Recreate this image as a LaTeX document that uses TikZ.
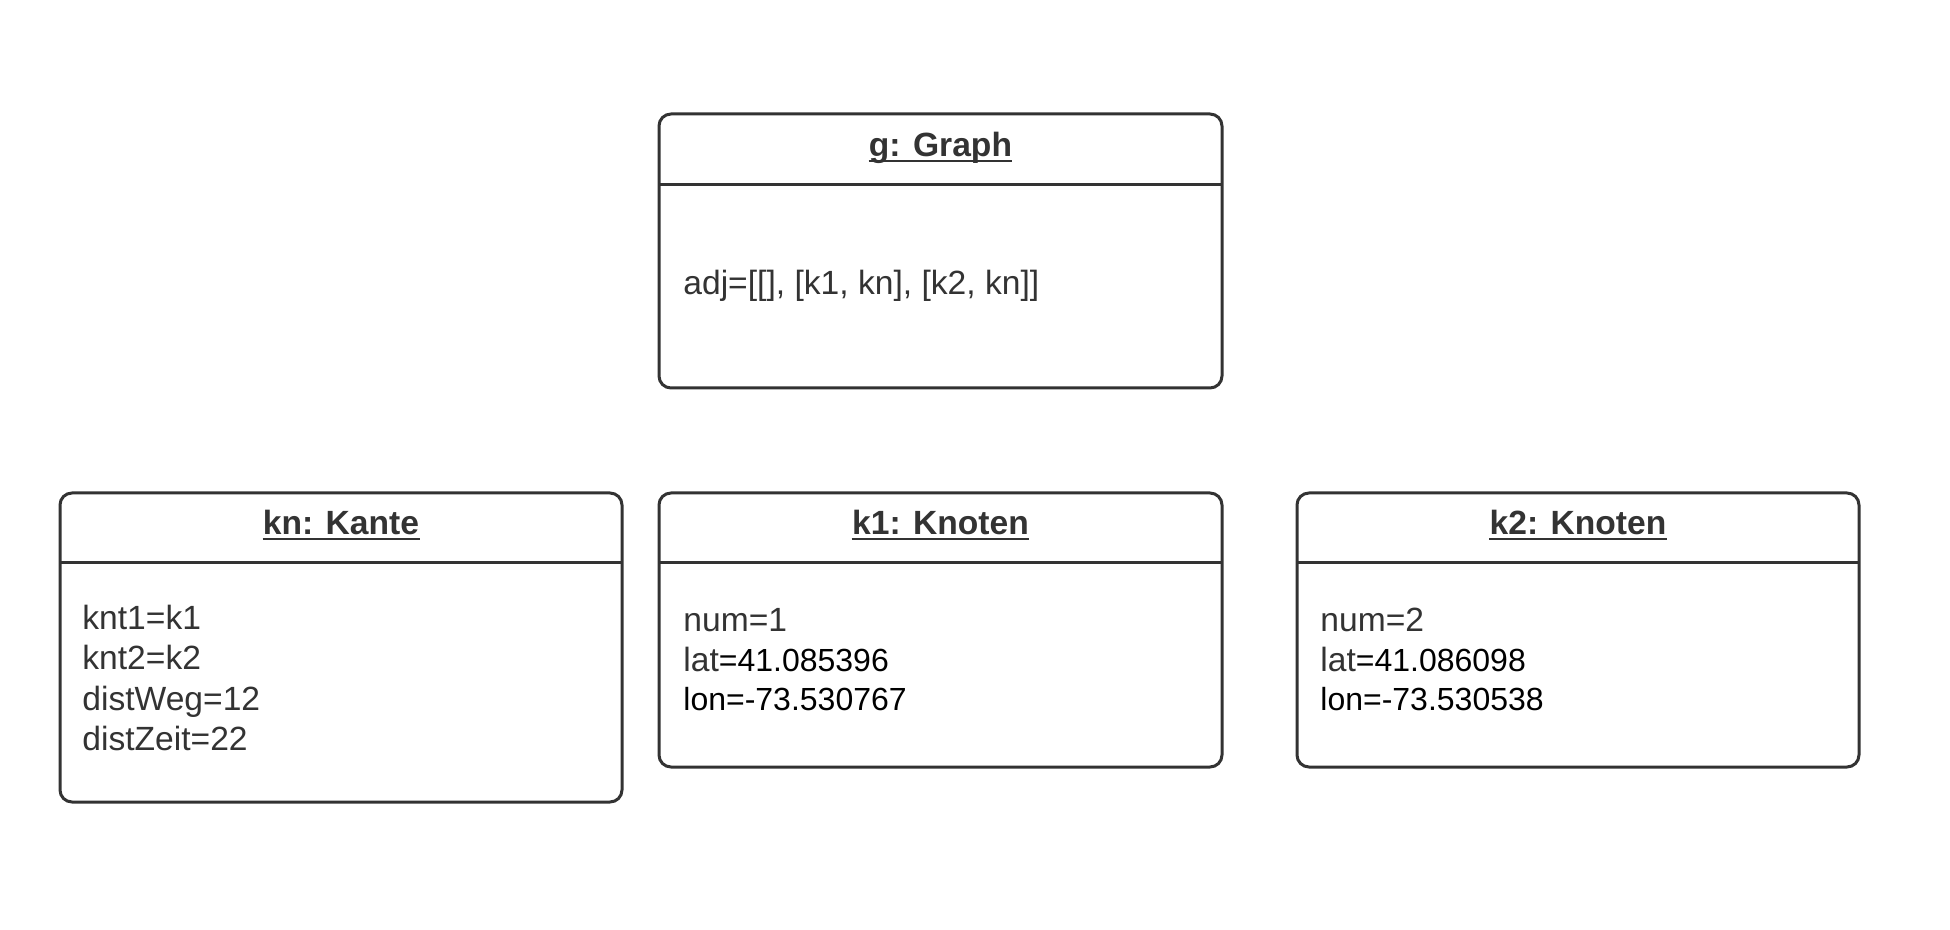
\documentclass[tikz,border=0pt]{standalone}
\usepackage{fontspec}
\setmainfont{Liberation Sans}
\definecolor{ink}{HTML}{333333}
\newcommand{\blk}[1]{{\color{black}\fontsize{16}{20}\selectfont #1}}
\begin{document}
\begin{tikzpicture}[x=0.5pt,y=-0.5pt,
  objbox/.style={draw=ink, line width=1.5pt, rounded corners=6pt, rectangle, inner sep=0pt, outer sep=0pt},
  sep/.style={draw=ink, line width=1.5pt},
  title/.style={anchor=base, inner sep=0pt, font=\fontsize{16.8}{20}\selectfont\bfseries, text=ink},
  attr/.style={anchor=base west, inner sep=0pt, font=\fontsize{16.8}{20}\selectfont, text=ink},
  ul/.style={draw=ink, line width=1pt}]
\useasboundingbox (0,0) rectangle (1950,930);
\fill[white] (0,0) rectangle (1950,930);

% boxes
\node[objbox, minimum width=281.5pt, minimum height=137pt] (g) at (940.5,251) {};
\node[objbox, minimum width=281pt, minimum height=154.5pt] (kn) at (341,647.5) {};
\node[objbox, minimum width=281.5pt, minimum height=137pt] (k1) at (940.5,630) {};
\node[objbox, minimum width=281pt, minimum height=137pt] (k2) at (1578,630) {};

% separators
\draw[sep] (g.west |- 0,185) -- (g.east |- 0,185);
\draw[sep] (kn.west |- 0,563) -- (kn.east |- 0,563);
\draw[sep] (k1.west |- 0,563) -- (k1.east |- 0,563);
\draw[sep] (k2.west |- 0,563) -- (k2.east |- 0,563);

% titles
\node[title] (gt) at (940.5,157) {g: Graph};
\node[title] (knt) at (341,535) {kn: Kante};
\node[title] (k1t) at (940.5,535) {k1: Knoten};
\node[title] (k2t) at (1578,535) {k2: Knoten};
\foreach \t in {gt,knt,k1t,k2t}{
  \draw[ul] ([yshift=-1.8pt]\t.base west) -- ([yshift=-1.8pt]\t.base east);
}

% attributes
\node[attr] (ga) at (683,295) {adj=[[], [k1, kn], [k2, kn]]};

\node[attr] (kn1) at (82,629) {knt1=k1};
\node[attr] (kn2) at (82,669) {knt2=k2};
\node[attr] (kn3) at (82,710) {distWeg=12};
\node[attr] (kn4) at (82,750) {distZeit=22};

\node[attr] (k1a) at (683,632) {num=1};
\node[attr] (k1b) at (683,671) {lat\blk{=41.085396}};
\node[attr] (k1c) at (683,710) {\blk{lon=-73.530767}};

\node[attr] (k2a) at (1320,632) {num=2};
\node[attr] (k2b) at (1320,671) {lat\blk{=41.086098}};
\node[attr] (k2c) at (1320,710) {\blk{lon=-73.530538}};
\end{tikzpicture}
\end{document}
